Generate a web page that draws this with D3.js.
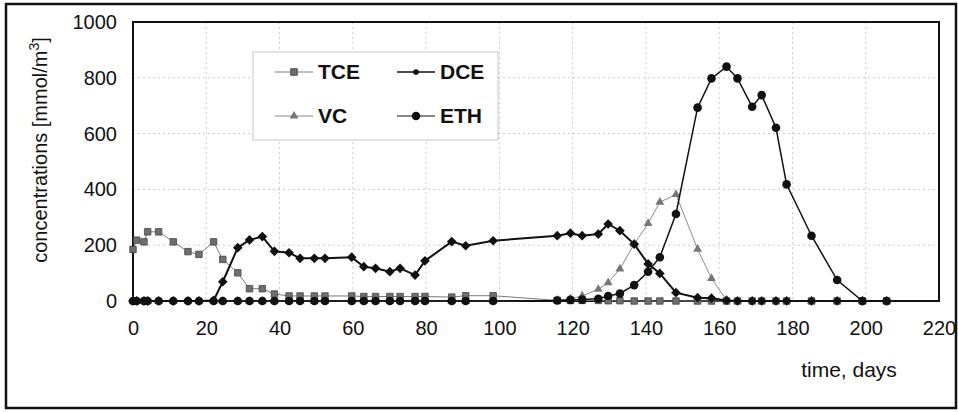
<!DOCTYPE html>
<html>
<head>
<meta charset="utf-8">
<script src="https://cdn.jsdelivr.net/npm/d3@7"></script>
<style>
  body { margin: 0; background: #fff; }
  svg { display: block; font-family: "Liberation Sans", Arial, sans-serif; }
</style>
</head>
<body>
<div id="chart"></div>
<script>
// sampling days and measured concentrations [mmol/m3]
const days = [0, 1, 3, 4, 7, 11, 15, 18, 22, 24.5, 28.6, 31.8, 35.3, 38.6, 42.6, 45.6, 49.5, 52.4,
  59.7, 63, 66.2, 70.1, 72.9, 77, 79.7, 87, 90.8, 98.3, 115.8, 119.4, 122.6, 127, 129.7, 132.9,
  136.8, 140.6, 143.8, 148.2, 154.1, 157.9, 162, 165, 169, 171.6, 175.5, 178.4, 185.2, 192.2, 199.1, 205.7];

const tce = [185, 218, 212, 248, 248, 212, 177, 167, 212, 149, 101, 44, 44, 25, 18, 18, 18, 18,
  18, 16, 16, 16, 16, 16, 16, 14, 19, 19, 2, 2, 2, 2, 1, 1,
  0, 0, 0, 0, 0, 0, 0, 0, 0, 0, 0, 0, 0, 0, 0, 0];

const dce = [0, 0, 0, 0, 0, 0, 0, 0, 2, 69, 191, 219, 231, 178, 173, 153, 153, 153,
  157, 123, 117, 105, 117, 93, 144, 213, 198, 216, 234, 243, 234, 240, 276, 252,
  204, 133, 99, 30, 12, 10, 2, 0, 0, 0, 0, 0, 0, 0, 0, 0];

const vc = [0, 0, 0, 0, 0, 0, 0, 0, 0, 0, 0, 0, 0, 0, 0, 0, 0, 0,
  0, 0, 0, 0, 0, 0, 0, 0, 0, 0, 3, 8, 18, 42, 66, 115,
  204, 278, 354, 382, 186, 81, 3, 0, 0, 0, 0, 0, 0, 0, 0, 0];

const eth = [0, 0, 0, 0, 0, 0, 0, 0, 0, 0, 0, 0, 0, 0, 0, 0, 0, 0,
  0, 0, 0, 0, 0, 0, 0, 0, 0, 0, 2, 4, 5, 8, 18, 27,
  57, 105, 157, 312, 693, 798, 840, 798, 696, 738, 621, 418, 234, 75, 0, 0];

const xTicks = [0, 20, 40, 60, 80, 100, 120, 140, 160, 180, 200, 220];
const yTicks = [0, 200, 400, 600, 800, 1000];

const W = 958, H = 412;
const margin = {left: 133, top: 22, right: 19, bottom: 111};

const svg = d3.select("#chart").append("svg")
    .attr("width", W)
    .attr("height", H);

// outer frame
svg.append("rect")
    .attr("x", 6).attr("y", 4)
    .attr("width", 950).attr("height", 404)
    .attr("fill", "none")
    .attr("stroke", "#111")
    .attr("stroke-width", 2.5);

const x = d3.scaleLinear().domain([0, 220]).range([margin.left, W - margin.right]);
const y = d3.scaleLinear().domain([0, 1000]).range([H - margin.bottom, margin.top]);

// grid
svg.append("g").selectAll("line").data(xTicks.slice(1, -1)).join("line")
    .attr("x1", d => x(d)).attr("x2", d => x(d))
    .attr("y1", y(1000)).attr("y2", y(0))
    .attr("stroke", "#bdbdbd").attr("stroke-width", 0.8).attr("stroke-dasharray", "2,3");
svg.append("g").selectAll("line").data(yTicks.slice(1, -1)).join("line")
    .attr("x1", x(0)).attr("x2", x(220))
    .attr("y1", d => y(d)).attr("y2", d => y(d))
    .attr("stroke", "#bdbdbd").attr("stroke-width", 0.8).attr("stroke-dasharray", "2,3");

// plot frame
svg.append("rect")
    .attr("x", x(0)).attr("y", y(1000))
    .attr("width", x(220) - x(0)).attr("height", y(0) - y(1000))
    .attr("fill", "none").attr("stroke", "#111").attr("stroke-width", 2);

// axes (labels only, frame drawn above)
const xAxis = svg.append("g")
    .attr("transform", `translate(0,${y(0)})`)
    .call(d3.axisBottom(x).tickValues(xTicks).tickSize(0).tickPadding(20).tickFormat(d3.format("d")));
xAxis.select(".domain").remove();
xAxis.attr("font-size", 20).attr("font-family", null);
xAxis.selectAll("text").attr("fill", "#111");

const yAxis = svg.append("g")
    .attr("transform", `translate(${x(0)},0)`)
    .call(d3.axisLeft(y).tickValues(yTicks).tickSize(0).tickPadding(16).tickFormat(d3.format("d")));
yAxis.select(".domain").remove();
yAxis.attr("font-size", 20).attr("font-family", null);
yAxis.selectAll("text").attr("fill", "#111");

// axis titles
const yt = svg.append("text")
    .attr("transform", `translate(47,150) rotate(-90)`)
    .attr("text-anchor", "middle")
    .attr("font-size", 20).attr("fill", "#111");
yt.append("tspan").text("concentrations [mmol/m");
yt.append("tspan").attr("dy", -8).attr("font-size", 14).text("3");
yt.append("tspan").attr("dy", 8).text("]");

svg.append("text")
    .attr("x", 849).attr("y", 377)
    .attr("text-anchor", "middle")
    .attr("font-size", 21).attr("fill", "#111")
    .text("time, days");

// series
const series = [
  {name: "TCE", values: tce, line: "#7a7a7a", width: 1, marker: "square", fill: "#6e6e6e", size: 42},
  {name: "VC", values: vc, line: "#8a8a8a", width: 1, marker: "triangle", fill: "#777", size: 34},
  {name: "DCE", values: dce, line: "#111", width: 2, marker: "diamond", fill: "#111", size: 60},
  {name: "ETH", values: eth, line: "#111", width: 1.5, marker: "circle", fill: "#111", size: 58}
];
const symbolType = {square: d3.symbolSquare, triangle: d3.symbolTriangle, diamond: d3.symbolDiamond2, circle: d3.symbolCircle};

const line = d3.line()
    .x(d => x(d[0]))
    .y(d => y(d[1]));

series.forEach(s => {
  const pts = days.map((d, i) => [d, s.values[i]]);
  svg.append("path")
      .datum(pts)
      .attr("fill", "none")
      .attr("stroke", s.line)
      .attr("stroke-width", s.width)
      .attr("d", line);
  svg.append("g").selectAll("path").data(pts).join("path")
      .attr("transform", d => `translate(${x(d[0])},${y(d[1])})`)
      .attr("d", d3.symbol().type(symbolType[s.marker]).size(s.size))
      .attr("fill", s.fill)
      .attr("stroke", s.marker === "square" ? "#444" : "none")
      .attr("stroke-width", 0.8);
});

// legend
const lg = svg.append("g");
lg.append("rect")
    .attr("x", 253).attr("y", 52).attr("width", 245).attr("height", 88)
    .attr("fill", "#fff").attr("stroke", "#c8c8c8").attr("stroke-width", 1);

const legendItems = [
  {s: series[0], lx: 275, ly: 72, small: false},
  {s: series[2], lx: 397, ly: 72, small: true},
  {s: series[1], lx: 275, ly: 116, small: false},
  {s: series[3], lx: 397, ly: 116, small: false}
];
legendItems.forEach(it => {
  lg.append("line")
      .attr("x1", it.lx).attr("x2", it.lx + 38)
      .attr("y1", it.ly).attr("y2", it.ly)
      .attr("stroke", it.s.line).attr("stroke-width", it.s.width === 2 ? 1.5 : 1);
  lg.append("path")
      .attr("transform", `translate(${it.lx + 19},${it.ly})`)
      .attr("d", d3.symbol().type(it.small ? d3.symbolCircle : symbolType[it.s.marker]).size(it.small ? 25 : it.s.size))
      .attr("fill", it.s.fill)
      .attr("stroke", it.s.marker === "square" ? "#444" : "none");
  lg.append("text")
      .attr("x", it.lx + 43).attr("y", it.ly + 7)
      .attr("font-size", 21).attr("font-weight", "bold").attr("fill", "#111")
      .text(it.s.name);
});
</script>
</body>
</html>
